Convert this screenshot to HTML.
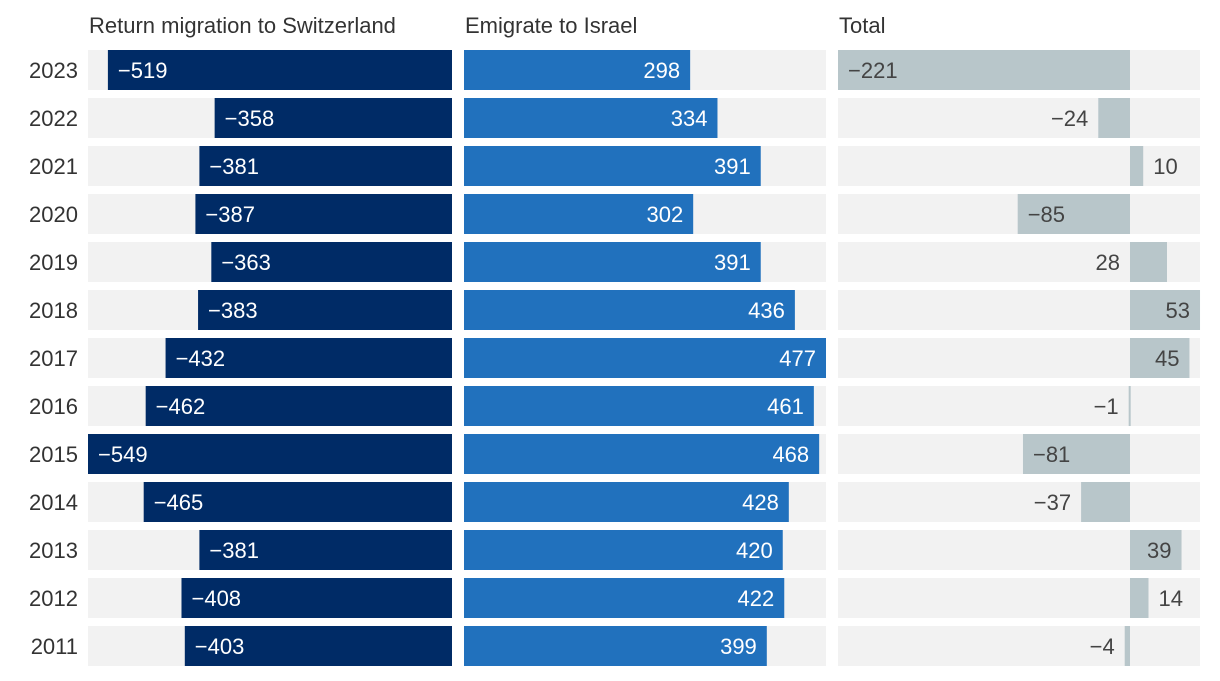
<!DOCTYPE html>
<html><head><meta charset="utf-8"><style>
body{margin:0;background:#fff;width:1220px;height:676px;overflow:hidden;font-family:"Liberation Sans",sans-serif}
svg text{font-family:"Liberation Sans",sans-serif;font-size:22px}
</style></head><body>
<svg id="c" width="1220" height="676"></svg>
<script>
const years=[2023,2022,2021,2020,2019,2018,2017,2016,2015,2014,2013,2012,2011];
const returnVals=[-519,-358,-381,-387,-363,-383,-432,-462,-549,-465,-381,-408,-403];
const emigrateVals=[298,334,391,302,391,436,477,461,468,428,420,422,399];
const totalVals=[-221,-24,10,-85,28,53,45,-1,-81,-37,39,14,-4];
const titles=["Return migration to Switzerland","Emigrate to Israel","Total"];
const svg=document.getElementById('c');const NS='http://www.w3.org/2000/svg';
function mk(t,a,p){const e=document.createElementNS(NS,t);for(const k in a)e.setAttribute(k,a[k]);(p||svg).appendChild(e);return e;}
const rowY=i=>50+i*48, rowH=40;
const x1=v=>452+v*(364/549);
const x2=v=>464+v*(362/477);
const x3=v=>1130+v*(292/221);
const fmt=v=>v<0?'\u2212'+Math.abs(v):''+v;
const panels=[[88,452],[464,826],[838,1200]];
titles.forEach((t,k)=>{const e=mk('text',{x:panels[k][0]+1,y:33,fill:'#333'});e.textContent=t;

});
years.forEach((yr,i)=>{
 const y=rowY(i);
 const yl=mk('text',{x:78,y:y+28,'text-anchor':'end',fill:'#333'});yl.textContent=yr;
 
 
 panels.forEach(p=>{const bg=mk('rect',{x:p[0],y:y,width:p[1]-p[0],height:rowH,fill:'#f2f2f2'});
  
  });
 // panel1
 let v=returnVals[i],a=x1(v),b=x1(0);
 let r=mk('rect',{x:a,y:y,width:b-a,height:rowH,fill:'#002b66'});
 
 
 let t=mk('text',{x:a+10,y:y+28,fill:'#fff'});t.textContent=fmt(v);
 
 
 // panel2
 v=emigrateVals[i];a=x2(0);b=x2(v);
 r=mk('rect',{x:a,y:y,width:b-a,height:rowH,fill:'#2171bd'});
 
 
 t=mk('text',{x:b-10,y:y+28,fill:'#fff','text-anchor':'end'});t.textContent=fmt(v);
 
 
 // panel3
 v=totalVals[i];a=Math.min(x3(0),x3(v));b=Math.max(x3(0),x3(v));
 r=mk('rect',{x:a,y:y,width:Math.max(b-a,2),height:rowH,fill:'#b8c6ca'});
 
 
 let tx,anc;
 if(v<0){ if(b-a>60){tx=a+10;anc='start';} else {tx=a-10;anc='end';} }
 else if(v>=35){tx=b-10;anc='end';}
 else if(v>=20){tx=x3(0)-10;anc='end';}
 else {tx=b+10;anc='start';}
 t=mk('text',{x:tx,y:y+28,fill:'#444','text-anchor':anc});t.textContent=fmt(v);
 
 
});
</script></body></html>
